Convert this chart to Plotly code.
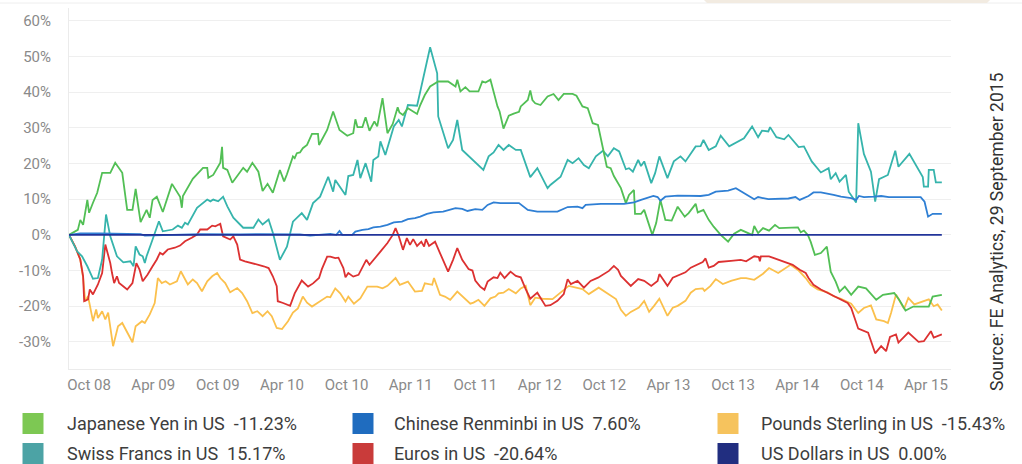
import plotly.graph_objects as go

# ---------------- data ----------------
yen_dates = ["2008-08-05","2008-08-30","2008-09-06","2008-09-14","2008-09-26","2008-10-01","2008-10-12","2008-10-24","2008-11-07","2008-11-30","2008-12-14","2009-01-03","2009-01-17","2009-02-01","2009-02-10","2009-02-24","2009-03-13","2009-03-22","2009-03-30","2009-04-11","2009-04-28","2009-05-24","2009-06-16","2009-06-21","2009-06-24","2009-07-22","2009-08-20","2009-09-01","2009-09-04","2009-09-18","2009-10-08","2009-10-13","2009-10-16","2009-10-28","2009-11-11","2009-12-12","2009-12-23","2010-01-07","2010-01-24","2010-02-05","2010-02-19","2010-03-06","2010-03-26","2010-04-07","2010-04-15","2010-05-02","2010-05-07","2010-05-13","2010-05-22","2010-05-30","2010-06-11","2010-06-25","2010-07-12","2010-07-15","2010-08-07","2010-08-24","2010-09-11","2010-10-03","2010-10-20","2010-10-26","2010-11-01","2010-11-15","2010-11-24","2010-12-05","2010-12-19","2010-12-27","2011-01-11","2011-01-25","2011-02-09","2011-02-23","2011-02-28","2011-03-10","2011-03-24","2011-04-19","2011-04-28","2011-05-11","2011-05-26","2011-06-18","2011-07-16","2011-08-06","2011-08-11","2011-08-20","2011-09-03","2011-09-15","2011-10-10","2011-10-21","2011-10-30","2011-11-13","2011-12-03","2011-12-09","2011-12-20","2012-01-04","2012-01-18","2012-02-02","2012-02-07","2012-02-27","2012-03-05","2012-03-11","2012-03-19","2012-04-03","2012-04-23","2012-05-10","2012-05-24","2012-06-08","2012-07-03","2012-07-14","2012-07-31","2012-08-15","2012-08-29","2012-09-13","2012-09-27","2012-10-08","2012-10-19","2012-10-28","2012-11-17","2012-12-01","2012-12-10","2012-12-24","2012-12-27","2013-01-13","2013-01-22","2013-02-03","2013-02-14","2013-02-25","2013-03-09","2013-03-23","2013-04-10","2013-04-27","2013-05-17","2013-05-28","2013-06-17","2013-06-23","2013-07-09","2013-07-24","2013-08-07","2013-08-27","2013-09-17","2013-10-04","2013-10-23","2013-11-24","2013-11-30","2013-12-11","2013-12-25","2014-01-11","2014-01-28","2014-02-09","2014-03-19","2014-04-03","2014-04-11","2014-04-20","2014-05-01","2014-05-09","2014-05-21","2014-06-07","2014-06-24","2014-07-05","2014-07-19","2014-07-30","2014-08-14","2014-09-01","2014-09-21","2014-10-13","2014-11-11","2014-11-30","2015-01-01","2015-01-15","2015-02-02","2015-02-24","2015-04-09","2015-04-20","2015-05-16"]
yen_values = [0,1.4,4.2,2.8,9.8,6.2,9.0,11.8,17.4,17.4,20.2,17.4,7.0,7.0,12.9,3.6,7.0,4.8,9.8,10.7,6.4,14.3,10.7,7.6,10.9,15.7,18.8,18.8,16.0,16.8,20.2,24.7,18.8,18.2,14.6,18.8,17.7,20.2,17.7,12.3,14.3,11.8,18.2,15.0,17.0,22.0,21.5,22.9,23.1,24.3,25.2,28.3,28.3,25.2,29.4,34.6,29.4,27.8,28.5,32.4,30.2,30.2,33.0,29.2,31.8,30.4,38.3,28.5,31.1,35.8,34.3,33.6,35.5,33.9,36.4,39.2,41.6,43.0,43.0,41.6,43.5,40.2,41.4,40.2,40.2,43.0,42.7,43.5,36.0,34.6,29.8,33.4,34.0,34.5,36.0,37.8,40.5,37.8,36.9,36.4,38.8,39.5,37.8,39.5,39.5,39.0,36.0,35.5,31.3,30.8,24.3,19.1,18.7,16.5,13.1,8.9,11.2,12.6,5.9,5.9,7.0,3.3,0.0,3.3,9.8,4.2,4.0,7.9,5.1,6.1,8.7,6.3,7.0,4.2,2.3,0.0,-1.9,0.3,1.4,0.0,2.5,0.5,1.9,1.2,2.8,1.9,2.1,2.1,0.7,1.2,0.0,-1.9,-5.6,-5.1,-3.3,-10.3,-13.1,-15.9,-14.5,-16.8,-14.5,-15.0,-18.2,-16.8,-16.3,-18.2,-21.2,-20.1,-20.1,-17.3,-16.8]

chf_dates = ["2008-08-05","2008-08-28","2008-09-11","2008-09-26","2008-10-12","2008-10-26","2008-11-07","2008-11-18","2008-11-30","2008-12-19","2009-01-06","2009-01-26","2009-02-04","2009-02-10","2009-02-21","2009-03-02","2009-03-08","2009-03-13","2009-03-30","2009-04-17","2009-04-28","2009-05-12","2009-05-26","2009-06-10","2009-06-21","2009-06-30","2009-07-08","2009-08-03","2009-08-20","2009-09-01","2009-09-10","2009-09-18","2009-10-02","2009-10-16","2009-10-28","2009-11-14","2009-12-12","2010-01-10","2010-01-24","2010-02-05","2010-02-22","2010-03-06","2010-03-26","2010-04-15","2010-05-02","2010-05-27","2010-06-11","2010-06-28","2010-07-18","2010-08-10","2010-08-24","2010-08-30","2010-09-28","2010-10-06","2010-10-20","2010-11-01","2010-11-09","2010-11-24","2010-12-10","2010-12-16","2010-12-30","2011-01-05","2011-01-19","2011-02-12","2011-02-26","2011-03-07","2011-03-24","2011-04-19","2011-05-26","2011-06-15","2011-06-18","2011-07-16","2011-07-30","2011-08-11","2011-08-25","2011-10-24","2011-11-08","2011-11-22","2011-12-06","2011-12-20","2012-01-04","2012-01-24","2012-02-07","2012-03-05","2012-03-25","2012-04-23","2012-05-01","2012-05-30","2012-06-19","2012-07-03","2012-07-20","2012-08-04","2012-08-18","2012-09-07","2012-09-27","2012-10-11","2012-10-28","2012-11-12","2012-12-01","2012-12-10","2012-12-21","2013-01-05","2013-01-13","2013-01-22","2013-02-11","2013-02-22","2013-03-06","2013-03-29","2013-04-16","2013-05-05","2013-05-19","2013-06-17","2013-07-01","2013-07-09","2013-07-24","2013-08-13","2013-08-27","2013-09-20","2013-11-01","2013-11-24","2013-12-11","2013-12-22","2014-01-09","2014-01-14","2014-02-01","2014-02-23","2014-03-07","2014-04-05","2014-04-20","2014-05-12","2014-06-07","2014-06-29","2014-07-05","2014-07-19","2014-07-30","2014-08-17","2014-08-25","2014-09-15","2014-09-21","2014-10-07","2014-10-27","2014-11-08","2014-11-19","2014-12-14","2015-01-04","2015-01-13","2015-02-13","2015-03-23","2015-03-26","2015-04-07","2015-04-09","2015-04-23","2015-04-29","2015-05-16"]
chf_values = [0,-4.6,-6.0,-8.8,-12.3,-12.1,-6.9,5.7,-0.4,-6.0,-7.7,-7.4,-8.8,-3.2,-5.5,-6.0,-7.9,-6.0,-1.3,3.8,1.0,1.2,1.5,2.6,2.0,3.4,2.9,7.6,9.0,9.9,9.4,9.9,9.4,10.7,8.0,4.8,2.0,2.0,4.3,2.9,4.3,0.6,-7.0,-3.3,3.7,6.1,4.2,8.9,10.7,16.3,12.1,15.4,11.2,16.5,16.8,21.0,15.9,20.1,14.9,21.0,22.0,26.2,22.4,30.4,32.2,30.4,36.4,36.2,52.6,45.3,33.2,24.3,26.6,32.2,23.8,18.2,22.0,23.1,25.2,23.8,25.2,23.8,23.8,16.2,18.7,13.1,14.0,16.3,21.0,20.1,21.5,19.6,18.7,22.0,23.6,22.0,24.3,23.4,18.4,18.7,17.7,21.0,19.3,20.6,14.5,17.3,22.0,15.9,20.6,22.0,20.6,24.8,24.9,26.6,23.8,24.8,27.8,24.8,27.1,30.4,27.4,29.2,29.0,30.2,27.4,26.8,28.0,24.6,24.8,20.6,17.5,18.7,15.6,17.3,14.9,16.8,12.1,9.1,31.3,22.7,17.7,9.3,15.6,16.8,23.6,19.1,22.7,16.2,13.5,13.5,18.2,18.2,14.7,14.7]

cny_dates = ["2008-08-05","2008-09-06","2008-11-01","2008-12-28","2009-02-24","2009-03-08","2009-05-18","2009-08-12","2009-12-03","2010-01-30","2010-05-22","2010-06-20","2010-08-16","2010-09-02","2010-09-11","2010-09-19","2010-10-17","2010-10-26","2010-11-15","2010-12-02","2010-12-16","2011-01-05","2011-01-25","2011-02-12","2011-03-07","2011-03-24","2011-04-13","2011-04-28","2011-05-17","2011-06-04","2011-07-02","2011-07-22","2011-08-06","2011-08-25","2011-09-09","2011-10-01","2011-10-21","2011-11-05","2011-11-22","2011-12-11","2012-02-02","2012-02-27","2012-03-25","2012-05-21","2012-06-19","2012-07-17","2012-07-31","2012-08-09","2012-09-21","2012-11-26","2012-12-24","2013-01-13","2013-02-17","2013-03-01","2013-03-09","2013-03-23","2013-04-27","2013-07-01","2013-07-24","2013-08-13","2013-09-17","2013-10-09","2013-11-01","2013-11-30","2013-12-11","2014-01-09","2014-03-07","2014-03-27","2014-04-08","2014-05-03","2014-05-17","2014-06-07","2014-07-13","2014-08-03","2014-09-01","2014-09-15","2014-09-23","2014-10-07","2014-11-05","2014-11-25","2014-12-17","2015-03-17","2015-03-28","2015-04-07","2015-04-20","2015-05-16"]
cny_values = [0,0.4,0.4,0.3,0.2,-0.2,0.0,0.2,0.1,0.2,0.1,-0.2,0.3,0.0,1.1,0.0,0.0,0.9,1.4,1.6,2.1,2.3,2.8,3.5,3.7,4.4,4.7,5.1,5.9,6.3,6.5,7.0,7.5,7.3,6.7,7.2,7.0,8.4,9.1,8.9,8.9,7.0,6.5,6.5,7.8,7.9,7.5,8.4,8.7,8.7,9.1,9.8,10.9,10.6,9.6,10.7,11.0,10.9,11.2,12.1,12.4,13.1,11.7,10.0,10.6,10.0,10.2,10.6,9.8,10.9,11.9,11.9,11.2,10.7,10.3,9.8,10.9,10.6,10.7,10.9,10.6,10.6,9.3,5.1,5.9,5.9]

eur_dates = ["2008-08-05","2008-08-22","2008-09-06","2008-09-14","2008-09-17","2008-09-28","2008-10-03","2008-10-12","2008-10-26","2008-11-07","2008-11-16","2008-11-21","2008-11-30","2008-12-05","2008-12-11","2008-12-19","2008-12-25","2009-01-17","2009-02-01","2009-02-12","2009-02-21","2009-03-02","2009-03-16","2009-03-30","2009-04-11","2009-04-20","2009-04-28","2009-05-12","2009-06-01","2009-06-16","2009-06-30","2009-07-19","2009-08-03","2009-08-12","2009-09-01","2009-09-15","2009-09-24","2009-10-08","2009-10-16","2009-11-05","2009-11-14","2009-11-25","2009-12-03","2009-12-17","2010-01-07","2010-01-21","2010-02-08","2010-02-22","2010-03-06","2010-03-17","2010-03-20","2010-04-04","2010-04-24","2010-05-07","2010-05-27","2010-06-14","2010-06-28","2010-07-15","2010-07-23","2010-08-07","2010-08-16","2010-08-30","2010-09-08","2010-09-22","2010-09-28","2010-10-06","2010-10-20","2010-11-04","2010-11-15","2010-11-26","2010-12-05","2010-12-16","2011-01-05","2011-01-25","2011-02-09","2011-02-17","2011-02-26","2011-03-10","2011-03-21","2011-03-30","2011-04-08","2011-04-19","2011-05-01","2011-05-09","2011-05-14","2011-05-23","2011-06-09","2011-06-23","2011-07-02","2011-07-16","2011-07-30","2011-08-11","2011-08-25","2011-09-12","2011-09-23","2011-10-01","2011-10-15","2011-10-27","2011-11-05","2011-11-22","2011-12-03","2011-12-11","2011-12-23","2012-01-09","2012-01-24","2012-02-07","2012-02-21","2012-03-05","2012-03-25","2012-04-09","2012-04-17","2012-05-01","2012-05-21","2012-06-08","2012-06-19","2012-06-28","2012-07-17","2012-08-04","2012-08-23","2012-09-13","2012-09-30","2012-10-14","2012-10-28","2012-11-09","2012-11-17","2012-12-01","2012-12-15","2013-01-05","2013-01-22","2013-02-11","2013-03-01","2013-03-06","2013-03-29","2013-04-13","2013-04-27","2013-05-05","2013-05-19","2013-06-03","2013-06-23","2013-07-07","2013-07-15","2013-07-24","2013-08-07","2013-08-21","2013-09-25","2013-10-23","2013-11-07","2013-11-30","2013-12-13","2013-12-16","2013-12-19","2014-01-11","2014-01-25","2014-03-04","2014-03-19","2014-04-08","2014-04-25","2014-05-03","2014-05-17","2014-06-07","2014-07-05","2014-08-03","2014-08-22","2014-09-01","2014-09-09","2014-09-21","2014-10-19","2014-11-02","2014-11-08","2014-11-25","2014-12-09","2014-12-20","2015-01-06","2015-01-13","2015-02-10","2015-03-11","2015-03-26","2015-04-15","2015-04-23","2015-05-16"]
eur_values = [0,-3.2,-6.9,-11.6,-18.6,-18.1,-15.3,-16.7,-13.9,-10.7,-2.7,-4.6,-7.9,-10.7,-13.5,-11.6,-13.5,-15.3,-13.5,-7.9,-9.7,-13.0,-11.1,-8.8,-6.9,-5.0,-5.5,-4.1,-3.6,-3.0,-1.8,-0.8,0.1,1.5,1.5,2.6,2.4,3.1,-0.4,-1.3,-0.4,-2.7,-6.9,-7.4,-7.9,-8.3,-8.8,-9.3,-11.6,-14.4,-18.6,-19.1,-19.9,-16.4,-12.8,-14.5,-13.6,-12.1,-9.6,-6.1,-6.1,-6.5,-6.4,-9.3,-11.9,-10.7,-11.7,-11.2,-9.3,-7.0,-8.4,-7.0,-4.7,-2.3,0.0,1.9,-0.3,-4.2,-0.9,-2.8,-1.2,-3.1,-1.9,-3.3,-1.2,-3.1,-1.9,-5.1,-7.0,-10.3,-7.0,-3.7,-7.0,-9.6,-10.0,-12.8,-14.5,-15.4,-13.1,-11.9,-12.1,-10.6,-12.1,-10.3,-11.5,-11.9,-15.2,-17.9,-16.2,-18.5,-19.9,-19.7,-18.5,-16.6,-12.4,-13.8,-12.9,-14.8,-12.9,-12.0,-11.0,-10.1,-8.7,-9.8,-11.5,-12.9,-14.3,-12.4,-12.9,-14.3,-12.9,-11.0,-14.3,-12.0,-11.5,-11.0,-10.5,-9.2,-8.2,-7.6,-6.6,-9.2,-8.7,-7.6,-7.3,-7.0,-7.4,-6.0,-6.2,-7.4,-6.0,-6.0,-6.5,-7.9,-8.4,-9.8,-10.7,-12.1,-14.0,-15.3,-16.7,-18.0,-19.1,-20.5,-22.8,-26.3,-27.4,-31.2,-33.2,-31.2,-32.6,-28.6,-27.9,-30.2,-27.4,-30.0,-29.8,-27.0,-28.8,-27.9]

gbp_dates = ["2008-08-05","2008-08-22","2008-09-06","2008-09-14","2008-09-20","2008-09-28","2008-10-12","2008-10-21","2008-10-26","2008-11-07","2008-11-16","2008-11-24","2008-12-08","2008-12-22","2009-01-03","2009-01-17","2009-02-01","2009-02-10","2009-02-28","2009-03-08","2009-03-22","2009-04-05","2009-04-14","2009-04-25","2009-05-06","2009-05-18","2009-06-07","2009-06-18","2009-06-30","2009-07-08","2009-07-22","2009-08-03","2009-08-17","2009-09-01","2009-09-15","2009-09-29","2009-10-08","2009-10-22","2009-11-05","2009-11-25","2009-12-09","2009-12-23","2010-01-07","2010-01-21","2010-02-05","2010-02-19","2010-03-03","2010-03-17","2010-04-01","2010-04-18","2010-05-02","2010-05-16","2010-05-30","2010-06-11","2010-06-25","2010-07-18","2010-08-07","2010-08-16","2010-08-30","2010-09-13","2010-09-28","2010-10-06","2010-10-22","2010-11-09","2010-11-29","2010-12-27","2011-01-11","2011-01-25","2011-02-17","2011-03-01","2011-03-24","2011-04-13","2011-05-03","2011-05-11","2011-06-01","2011-06-06","2011-06-23","2011-07-07","2011-07-22","2011-08-11","2011-09-03","2011-09-17","2011-09-26","2011-10-10","2011-10-27","2011-11-13","2011-11-27","2011-12-06","2011-12-20","2012-01-04","2012-01-24","2012-02-07","2012-02-21","2012-03-05","2012-03-19","2012-04-09","2012-05-07","2012-05-24","2012-06-13","2012-06-22","2012-07-31","2012-08-18","2012-09-15","2012-10-11","2012-11-03","2012-11-17","2012-12-01","2012-12-15","2013-01-07","2013-01-22","2013-02-05","2013-02-19","2013-03-06","2013-03-29","2013-04-13","2013-04-27","2013-05-11","2013-05-19","2013-06-03","2013-06-17","2013-07-07","2013-07-12","2013-07-29","2013-08-13","2013-09-02","2013-09-25","2013-10-23","2013-11-07","2013-11-30","2013-12-25","2014-01-11","2014-02-06","2014-03-13","2014-04-05","2014-04-25","2014-05-09","2014-05-29","2014-06-26","2014-07-13","2014-08-03","2014-09-01","2014-09-21","2014-10-07","2014-10-27","2014-11-11","2014-12-03","2014-12-14","2014-12-23","2015-01-06","2015-01-29","2015-02-10","2015-02-27","2015-04-09","2015-04-23","2015-05-04","2015-05-16"]
gbp_values = [0,-3.2,-6.9,-12.0,-18.6,-17.2,-24.2,-20.9,-23.3,-21.4,-23.7,-21.8,-31.2,-25.6,-24.7,-27.5,-30.1,-25.6,-24.2,-24.7,-22.3,-19.1,-12.1,-13.5,-13.0,-13.9,-13.0,-10.2,-12.5,-13.9,-12.5,-13.5,-15.8,-13.0,-11.6,-10.7,-12.1,-13.5,-16.1,-14.9,-16.3,-18.6,-21.9,-21.4,-22.8,-21.4,-22.8,-26.1,-26.4,-24.2,-21.8,-20.6,-17.3,-19.0,-20.1,-18.7,-17.3,-17.5,-15.0,-16.4,-18.7,-17.3,-19.3,-17.8,-14.5,-14.5,-15.0,-14.3,-12.1,-14.0,-13.1,-15.9,-15.7,-13.6,-14.0,-12.1,-16.8,-17.3,-18.2,-15.9,-18.0,-19.3,-19.0,-18.2,-19.9,-17.8,-17.3,-16.4,-16.2,-15.2,-16.4,-15.0,-14.3,-19.7,-17.6,-17.9,-18.0,-16.6,-14.8,-14.3,-15.2,-16.6,-14.8,-16.6,-18.0,-21.0,-22.7,-21.6,-20.4,-18.5,-21.6,-19.9,-17.9,-22.7,-20.4,-19.9,-19.0,-18.5,-16.2,-15.2,-15.0,-15.7,-14.3,-12.4,-13.8,-12.9,-12.1,-12.1,-12.6,-10.9,-9.3,-10.7,-8.4,-10.0,-12.1,-14.0,-15.3,-16.1,-17.2,-17.9,-19.3,-21.9,-20.5,-19.8,-23.7,-24.2,-24.7,-21.9,-16.7,-20.7,-17.7,-19.5,-18.1,-20.0,-19.5,-21.2]

usd_dates = ["2008-08-05", "2015-05-16"]
usd_values = [0.0, 0.0]

series_names = ["Japanese Yen in US", "Chinese Renminbi in US", "Pounds Sterling in US",
                "Swiss Francs in US", "Euros in US", "US Dollars in US"]
series_totals = ["-11.23%", "7.60%", "-15.43%", "15.17%", "-20.64%", "0.00%"]

tick_dates = ["2008-10-01","2009-04-01","2009-10-01","2010-04-01","2010-10-01","2011-04-01",
              "2011-10-01","2012-04-01","2012-10-01","2013-04-01","2013-10-01","2014-04-01",
              "2014-10-01","2015-04-01"]
tick_labels = ["Oct 08","Apr 09","Oct 09","Apr 10","Oct 10","Apr 11","Oct 11","Apr 12",
               "Oct 12","Apr 13","Oct 13","Apr 14","Oct 14","Apr 15"]
y_ticks = [-30, -20, -10, 0, 10, 20, 30, 40, 50, 60]
y_labels = ["-30%", "-20%", "-10%", "0%", "10%", "20%", "30%", "40%", "50%", "60%"]

source_text = "Source: FE Analytics, 29 September 2015"

# ---------------- styling ----------------
line_colors = {"yen": "#52bf55", "chf": "#36b4ac", "cny": "#2f7fd4",
               "eur": "#dc3131", "gbp": "#fbc04c", "usd": "#22349a"}
legend_colors = ["#7dc853", "#1f6cbf", "#f6c35d", "#4ca3a5", "#c93b3a", "#212e80"]

W, H = 1022, 464
ML, MR, MT, MB = 69, 71, 8, 95

fig = go.Figure()

def add_line(dates, vals, color, name, width=1.8):
    fig.add_trace(go.Scatter(x=dates, y=vals, mode="lines", name=name,
                             line=dict(color=color, width=width),
                             hoverinfo="x+y", showlegend=False))

add_line(gbp_dates, gbp_values, line_colors["gbp"], series_names[2])
add_line(eur_dates, eur_values, line_colors["eur"], series_names[4])
add_line(chf_dates, chf_values, line_colors["chf"], series_names[3])
add_line(yen_dates, yen_values, line_colors["yen"], series_names[0])
add_line(cny_dates, cny_values, line_colors["cny"], series_names[1])
add_line(usd_dates, usd_values, line_colors["usd"], series_names[5], width=1.8)

pw = W - ML - MR
ph = H - MT - MB

def px_x(p):
    return (p - ML) / pw

def px_y(p):
    return (H - MB - p) / ph

shapes = []
annotations = []

# legend (manual, two rows x three columns)
col_sq = [22.5, 352.5, 717.5]
col_tx = [65, 392, 759]
row_cy = [423.5, 453.5]
for i, (nm, tot) in enumerate(zip(series_names, series_totals)):
    r, c = divmod(i, 3)
    x0, cy = col_sq[c], row_cy[r]
    shapes.append(dict(type="rect", xref="paper", yref="paper",
                       x0=px_x(x0), x1=px_x(x0 + 21), y0=px_y(cy + 10.5), y1=px_y(cy - 10.5),
                       fillcolor=legend_colors[i], line=dict(width=0)))
    annotations.append(dict(xref="paper", yref="paper", x=px_x(col_tx[c]), y=px_y(cy),
                            xanchor="left", yanchor="middle", showarrow=False,
                            text=nm + "\u00a0\u00a0" + tot,
                            font=dict(family="Roboto, sans-serif", size=18, color="#3d3d3d")))

# source text, rotated
annotations.append(dict(xref="paper", yref="paper", x=px_x(997), y=px_y(231),
                        xanchor="center", yanchor="middle", showarrow=False, textangle=-90,
                        text=source_text,
                        font=dict(family="Roboto, sans-serif", size=17.5, color="#333333")))

# page decorations at the very top
shapes.append(dict(type="line", xref="paper", yref="paper", x0=px_x(0), x1=px_x(W),
                   y0=px_y(3), y1=px_y(3), line=dict(color="#eeeeee", width=1)))
shapes.append(dict(type="path", xref="paper", yref="paper",
                   path="M {} {} L {} {} L {} {} L {} {} Z".format(
                       px_x(704), px_y(0), px_x(990), px_y(0), px_x(987), px_y(3), px_x(707), px_y(3)),
                   fillcolor="#f2ebe1", line=dict(width=0)))

fig.update_layout(
    width=W, height=H,
    margin=dict(l=ML, r=MR, t=MT, b=MB),
    paper_bgcolor="white", plot_bgcolor="white",
    showlegend=False,
    shapes=shapes, annotations=annotations,
    font=dict(family="Roboto, sans-serif"),
    xaxis=dict(type="date", range=["2008-08-05", "2015-06-11"],
               tickvals=tick_dates, ticktext=tick_labels,
               showgrid=False, zeroline=False,
               showline=True, linecolor="#ebebeb", linewidth=1,
               ticks="", ticklabelstandoff=2,
               tickfont=dict(family="Roboto, sans-serif", size=15, color="#8a8a8a")),
    yaxis=dict(range=[-37.6, 63.6], tickvals=y_ticks, ticktext=y_labels,
               showgrid=True, gridcolor="#efefef", gridwidth=1,
               zeroline=False, showline=True, linecolor="#ebebeb", linewidth=1,
               ticks="", ticklabelstandoff=14,
               tickfont=dict(family="Roboto, sans-serif", size=15, color="#8a8a8a")),
)

fig.write_html(
    "out.html",
    config={"displayModeBar": False},
    post_script="document.body.style.margin='0';document.body.style.overflow='hidden';",
)
